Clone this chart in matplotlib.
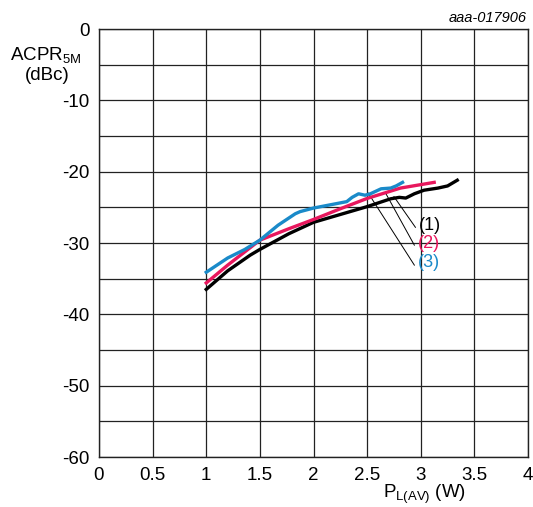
import matplotlib
matplotlib.use('Agg')
import matplotlib.pyplot as plt
import numpy as np

plt.rcParams['font.family'] = ['Liberation Sans', 'DejaVu Sans']
plt.rcParams['mathtext.fontset'] = 'custom'
plt.rcParams['mathtext.rm'] = 'Liberation Sans'
plt.rcParams['mathtext.it'] = 'Liberation Sans'
plt.rcParams['axes.unicode_minus'] = False

# curve (1) black
x1 = [1.0, 1.2, 1.41, 1.5, 1.77, 2.0, 2.25, 2.5, 2.72, 2.8, 2.86, 2.94, 3.03, 3.16, 3.25, 3.34]
y1 = [-36.5, -33.9, -31.7, -30.9, -28.7, -27.1, -26.0, -24.9, -23.8, -23.6, -23.7, -23.1, -22.6, -22.3, -22.0, -21.2]
# curve (2) red
x2 = [1.0, 1.2, 1.5, 1.77, 2.0, 2.25, 2.5, 2.81, 3.125]
y2 = [-35.6, -33.1, -29.6, -28.0, -26.7, -25.2, -23.75, -22.3, -21.5]
# curve (3) blue
x3 = [1.0, 1.2, 1.36, 1.5, 1.67, 1.83, 1.875, 2.0, 2.31, 2.36, 2.42, 2.48, 2.53, 2.63, 2.72, 2.77, 2.83]
y3 = [-34.1, -32.1, -30.9, -29.6, -27.5, -25.9, -25.6, -25.1, -24.2, -23.6, -23.1, -23.3, -23.1, -22.4, -22.3, -22.0, -21.5]

labels = ['(1)', '(2)', '(3)']
colors = ['#000000', '#e8175d', '#1a8ac9']
# leader line anchors (curve point, label point)
lead_from = [(2.75, -23.5), (2.67, -22.95), (2.51, -23.0)]
lead_to = [(2.95, -27.8), (2.94, -30.3), (2.94, -33.1)]

fig = plt.figure(figsize=(5.33, 5.07), dpi=100)
ax = fig.add_axes([0.1857, 0.0986, 0.805, 0.8442])

ax.plot(x1, y1, color=colors[0], lw=2.4, zorder=3)
ax.plot(x2, y2, color=colors[1], lw=2.4, zorder=3)
ax.plot(x3, y3, color=colors[2], lw=2.4, zorder=4)

for i in range(3):
    ax.plot([lead_from[i][0], lead_to[i][0]], [lead_from[i][1], lead_to[i][1]],
            color='black', lw=0.7, zorder=2)
    ax.text(lead_to[i][0] + 0.03, lead_to[i][1] + 0.3, labels[i], color=colors[i],
            fontsize=13, ha='left', va='center')

ax.set_xlim(0, 4)
ax.set_ylim(-60, 0)
ax.set_xticks(np.arange(0, 4.01, 0.5))
ax.set_xticklabels(['0', '0.5', '1', '1.5', '2', '2.5', '3', '3.5', '4'])
ax.set_yticks(np.arange(-60, 1, 10))
ax.set_yticks(np.arange(-55, 0, 10), minor=True)
ax.grid(True, which='both', color='#222222', lw=0.9)
ax.set_axisbelow(True)
ax.tick_params(which='both', length=0, labelsize=13.5)
ax.tick_params(axis='x', pad=7)
ax.tick_params(axis='y', pad=7)
for s in ax.spines.values():
    s.set_linewidth(1.0)
    s.set_color('#222222')

fig.text(46 / 533, 1 - 55 / 507, 'ACPR$_{\\mathrm{5M}}$', fontsize=13.5, ha='center', va='center')
fig.text(47 / 533, 1 - 75 / 507, '(dBc)', fontsize=13.5, ha='center', va='center')
fig.text(424 / 533, 1 - 498 / 507, 'P$_{\\mathrm{L(AV)}}$ (W)', fontsize=13.5, ha='center', va='baseline')
fig.text(527 / 533, 1 - 18 / 507, 'aaa-017906', fontsize=10.5, style='italic', ha='right', va='center')

fig.savefig('out.png', dpi=100)
